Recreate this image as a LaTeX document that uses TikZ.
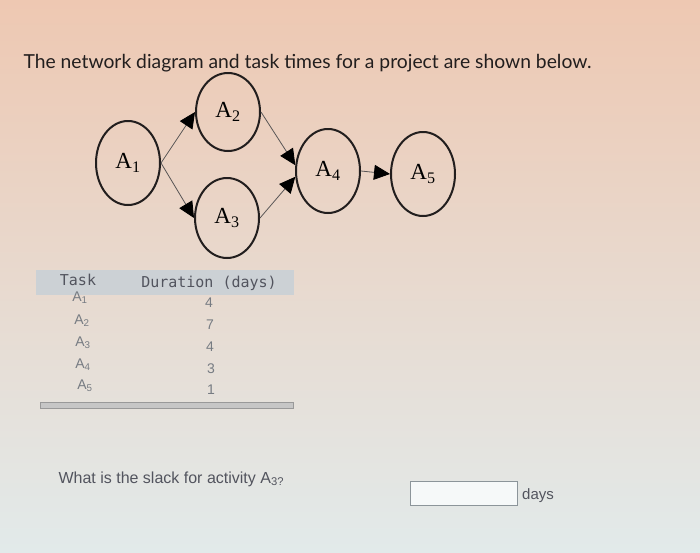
\documentclass[tikz,border=0pt]{standalone}
\usepackage{fontspec}
\setmainfont{Liberation Serif}
\newfontfamily\titlefont{Lato}
\newfontfamily\qfont{Liberation Sans}
\newfontfamily\monofont{DejaVu Sans Mono}
\usetikzlibrary{arrows.meta,shapes.geometric}
\definecolor{bgtop}{RGB}{238,200,178}
\definecolor{bgmid}{RGB}{236,228,222}
\definecolor{bgbot}{RGB}{226,234,234}
\definecolor{ink}{RGB}{34,30,30}
\definecolor{headgray}{RGB}{204,209,213}
\definecolor{rowgray}{RGB}{118,123,130}
\definecolor{qgray}{RGB}{82,84,94}
\begin{document}
\begin{tikzpicture}[x=1pt,y=-1pt]
    \tikzstyle{task}=[ellipse,draw=ink,line width=2pt,minimum width=64pt,minimum height=84pt,inner sep=0pt,font=\fontsize{23}{26}\selectfont]
    \tikzstyle{arc}=[draw=ink!75,line width=0.8pt,-{Triangle[length=16pt,width=15pt,color=black]}]
    \tikzstyle{row}=[text=rowgray,font=\qfont\fontsize{14}{16}\selectfont]
    \useasboundingbox (0,0) rectangle (700,552);
    \shade[top color=bgtop,middle color=bgmid,bottom color=bgbot] (0,0) rectangle (700,552);
    \node (title) at (20,68) [anchor=base west,text=ink,font=\titlefont\fontsize{19.3}{22}\selectfont] {The network diagram and task times for a project are shown below.};
    \node (a1)[task] at (128,163) {A\textsubscript{1}};
    \node (a2)[task,minimum height=78pt] at (228,112) {A\textsubscript{2}};
    \node (a3)[task,minimum height=80pt] at (227,218) {A\textsubscript{3}};
    \node (a4)[task] at (328,171) {A\textsubscript{4}};
    \node (a5)[task] at (423,174) {A\textsubscript{5}};
    \draw [arc] (a1.east) -- (a2.west);
    \draw [arc] (a1.east) -- (a3.west);
    \draw [arc] (a2.east) -- (a4.170);
    \draw [arc] (a3.east) -- (a4.190);
    \draw [arc] (a4.east) -- (a5.west);
    \fill [headgray] (36,270) rectangle (294,295);
    \node (task) at (78,280) [text=qgray,font=\monofont\fontsize{15}{18}\selectfont] {Task};
    \node (dur) at (209,283) [text=qgray,font=\monofont\fontsize{15}{18}\selectfont] {Duration (days)};
    \node (t1)[row] at (80,298) {A\textsubscript{1}};
    \node (t2)[row] at (82,321) {A\textsubscript{2}};
    \node (t3)[row] at (83,343) {A\textsubscript{3}};
    \node (t4)[row] at (83,365) {A\textsubscript{4}};
    \node (t5)[row] at (85,386) {A\textsubscript{5}};
    \node (d1)[row] at (209,303) {4};
    \node (d2)[row] at (210,325) {7};
    \node (d3)[row] at (210,347) {4};
    \node (d4)[row] at (211,369) {3};
    \node (d5)[row] at (211,390) {1};
    \draw [draw=gray!80,fill=gray!45] (40,402) rectangle (293,408);
    \node (question) at (55,479) [anchor=west,text=qgray,font=\qfont\fontsize{16}{19}\selectfont] {What is the slack for activity A\textsubscript{3?}};
    \node (answer) at (463.5,493) [draw=gray!90!cyan,line width=0.8pt,fill=white!70!bgbot,minimum width=107pt,minimum height=24pt] {};
    \node (days) at (538,496) [text=qgray,font=\qfont\fontsize{15}{18}\selectfont] {days};
\end{tikzpicture}
\end{document}
